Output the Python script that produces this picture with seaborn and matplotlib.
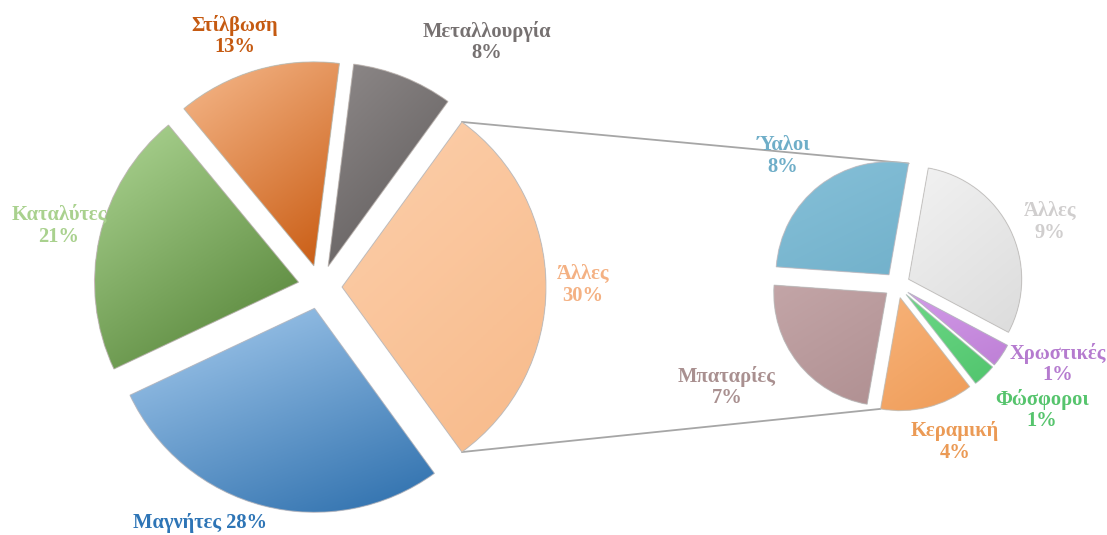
import numpy as np
import seaborn as sns
import matplotlib.pyplot as plt
from matplotlib.colors import LinearSegmentedColormap
from matplotlib.patches import PathPatch

# main pie (share of uses)
main_labels = ['Άλλες', 'Μεταλλουργία', 'Στίλβωση', 'Καταλύτες', 'Μαγνήτες']
main_values = [30, 8, 13, 21, 28]

# breakdown of "Άλλες"
sub_labels = ['Άλλες', 'Ύαλοι', 'Μπαταρίες', 'Κεραμική', 'Φώσφοροι', 'Χρωστικές']
sub_values = [9, 8, 7, 4, 1, 1]

W, H = 1107, 535

sns.set_theme(style="white")
plt.rcParams['font.family'] = ['Liberation Serif', 'DejaVu Serif']

# colours: (light, dark) gradient per wedge, then text colour
main_grad = [('#FCCFAB', '#F8BA8A'), ('#8E8989', '#5C5858'), ('#F6B98C', '#C8590F'),
             ('#AED694', '#4F7E31'), ('#A8CDEF', '#2C6EAC')]
main_text = ['#F4B183', '#767171', '#C55A11', '#A9D18E', '#2E75B6']
sub_grad = [('#F2F2F2', '#DCDCDC'), ('#86C0D8', '#72B1CB'), ('#C3A5A7', '#B09092'),
            ('#F7B278', '#EF9C58'), ('#6CD886', '#52C56E'), ('#D29AE8', '#BE80D6')]
sub_text = ['#D0CECE', '#6FAEC8', '#A99090', '#EB9A55', '#56C46D', '#B57BCF']

# label centres in pixel coordinates (x, y from top)
main_pos = [(583, 285), (487, 42), (235, 36), (59, 226), (200, 523)]
sub_pos = [(1050, 222), (783, 156), (727, 387), (955, 442), (1042, 410), (1058, 364)]


def shade(ax, wedge, light, dark, ang=-60):
    x0, y0, x1, y1 = wedge.get_path().get_extents().extents
    n = 200
    X, Y = np.meshgrid(np.linspace(-1, 1, n), np.linspace(-1, 1, n))
    Z = X * np.cos(np.radians(ang)) + Y * np.sin(np.radians(ang))
    cmap = LinearSegmentedColormap.from_list('g', [light, dark])
    im = ax.imshow(Z, extent=[x0, x1, y0, y1], origin='lower', cmap=cmap,
                   interpolation='bilinear', zorder=2)
    im.set_clip_path(wedge)


fig = plt.figure(figsize=(W / 100, H / 100), dpi=100)
ax = fig.add_axes([0, 0, 1, 1])

# explode is in data units (pixels here)
w_main, _ = ax.pie(main_values, center=(320, H - 287), radius=204,
                   explode=[22] * len(main_values), startangle=-54,
                   wedgeprops=dict(linewidth=0))
w_sub, _ = ax.pie(sub_values, center=(897, H - 285), radius=113,
                  explode=[13] * len(sub_values), startangle=-28,
                  wedgeprops=dict(linewidth=0))

for w, (lo, hi) in zip(w_main, main_grad):
    shade(ax, w, lo, hi)
for w, (lo, hi) in zip(w_sub, sub_grad):
    shade(ax, w, lo, hi)

# outline on top of the shading
for w in list(w_main) + list(w_sub):
    ax.add_patch(PathPatch(w.get_path(), fill=False, edgecolor='#BFBFBF',
                           linewidth=0.8, alpha=0.7, zorder=3))

# connector lines between the "Άλλες" wedge and the second pie
src = w_main[0]
cx, cy = src.center
p_top = (cx + src.r * np.cos(np.radians(src.theta2)), cy + src.r * np.sin(np.radians(src.theta2)))
p_bot = (cx + src.r * np.cos(np.radians(src.theta1)), cy + src.r * np.sin(np.radians(src.theta1)))
top_w = w_sub[1]
bot_w = w_sub[3]
q_top = (top_w.center[0] + top_w.r * np.cos(np.radians(top_w.theta1)),
         top_w.center[1] + top_w.r * np.sin(np.radians(top_w.theta1)))
q_bot = (bot_w.center[0] + bot_w.r * np.cos(np.radians(bot_w.theta1)),
         bot_w.center[1] + bot_w.r * np.sin(np.radians(bot_w.theta1)))
ax.plot([p_top[0], q_top[0]], [p_top[1], q_top[1]], color='#A6A6A6', lw=1.3, zorder=1)
ax.plot([p_bot[0], q_bot[0]], [p_bot[1], q_bot[1]], color='#A6A6A6', lw=1.3, zorder=1)

fs = 14.8
for lab, val, col, (x, y) in zip(main_labels, main_values, main_text, main_pos):
    txt = f'{lab} {val}%' if lab == 'Μαγνήτες' else f'{lab}\n{val}%'
    ax.text(x, H - y, txt, ha='center', va='center', color=col, fontsize=fs,
            fontweight='bold', linespacing=1.1, zorder=5)
for lab, val, col, (x, y) in zip(sub_labels, sub_values, sub_text, sub_pos):
    ax.text(x, H - y, f'{lab}\n{val}%', ha='center', va='center', color=col,
            fontsize=fs, fontweight='bold', linespacing=1.1, zorder=5)

ax.set_xlim(0, W)
ax.set_ylim(0, H)
ax.set_aspect('auto')
ax.axis('off')

fig.savefig('out.png', dpi=100, facecolor='white')
